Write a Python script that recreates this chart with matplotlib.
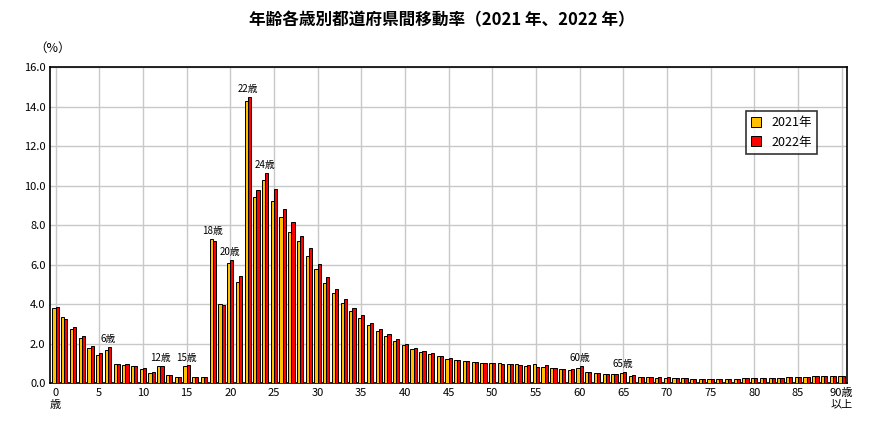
import numpy as np
import matplotlib.pyplot as plt

plt.rcParams['font.family'] = ['Noto Sans CJK JP', 'DejaVu Sans']

ages = np.arange(91)
rate_2021 = [3.79, 3.33, 2.73, 2.27, 1.77, 1.43, 1.68, 0.96, 0.93, 0.88,
             0.72, 0.52, 0.84, 0.39, 0.32, 0.86, 0.30, 0.29, 7.32, 3.99,
             6.09, 5.10, 14.28, 9.43, 10.27, 9.23, 8.42, 7.66, 7.19, 6.45,
             5.79, 5.07, 4.58, 4.04, 3.65, 3.32, 2.95, 2.66, 2.36, 2.14,
             1.95, 1.72, 1.58, 1.45, 1.35, 1.23, 1.18, 1.13, 1.08, 1.04,
             1.01, 0.99, 0.98, 0.94, 0.84, 0.98, 0.81, 0.76, 0.72, 0.67,
             0.77, 0.57, 0.51, 0.45, 0.44, 0.51, 0.37, 0.32, 0.30, 0.27,
             0.27, 0.27, 0.24, 0.22, 0.21, 0.22, 0.22, 0.22, 0.22, 0.24,
             0.24, 0.25, 0.25, 0.27, 0.29, 0.30, 0.32, 0.34, 0.35, 0.35, 0.34]
rate_2022 = [3.84, 3.23, 2.86, 2.39, 1.89, 1.50, 1.82, 0.98, 0.94, 0.88,
             0.76, 0.54, 0.86, 0.40, 0.32, 0.89, 0.30, 0.30, 7.19, 3.97,
             6.23, 5.44, 14.51, 9.80, 10.64, 9.81, 8.80, 8.15, 7.46, 6.82,
             6.04, 5.35, 4.75, 4.26, 3.82, 3.47, 3.06, 2.74, 2.47, 2.22,
             2.00, 1.78, 1.62, 1.52, 1.38, 1.28, 1.18, 1.11, 1.08, 1.03,
             1.03, 0.98, 0.98, 0.93, 0.89, 0.82, 0.93, 0.77, 0.72, 0.71,
             0.84, 0.57, 0.51, 0.47, 0.45, 0.56, 0.39, 0.32, 0.32, 0.30,
             0.29, 0.27, 0.25, 0.22, 0.22, 0.21, 0.22, 0.22, 0.22, 0.24,
             0.25, 0.25, 0.27, 0.27, 0.29, 0.32, 0.32, 0.35, 0.35, 0.37, 0.35]
labeled_ages = [6, 12, 15, 18, 20, 22, 24, 60, 65]
tick_pos = list(range(0, 91, 5))
tick_labels = ['0\n歳'] + [str(t) for t in tick_pos[1:-1]] + ['90歳\n以上']

fig = plt.figure(figsize=(8.83, 4.48), dpi=100)
ax = fig.add_axes([0.057, 0.145, 0.902, 0.705])

w = 0.36
ax.bar(ages - w / 2, rate_2021, width=w, color='#FFC000', edgecolor='black', linewidth=0.7, label='2021年', zorder=3)
ax.bar(ages + w / 2, rate_2022, width=w, color='#FF0000', edgecolor='black', linewidth=0.7, label='2022年', zorder=3)

for a in labeled_ages:
    top = max(rate_2021[a], rate_2022[a])
    ax.text(a, top + 0.15, f'{a}歳', ha='center', va='bottom', fontsize=7)

ax.set_xlim(-0.6, 90.6)
ax.set_ylim(0, 16)
ax.set_yticks(np.arange(0, 16.1, 2))
ax.set_yticklabels([f'{v:.1f}' for v in np.arange(0, 16.1, 2)], fontsize=8)
ax.set_xticks(tick_pos)
ax.set_xticklabels(tick_labels, fontsize=8, va='top')
ax.tick_params(length=0)
ax.grid(True, color='#c8c8c8', linewidth=1, zorder=0)
for s in ax.spines.values():
    s.set_linewidth(1.2)

ax.text(-0.02, 1.06, '（%）', transform=ax.transAxes, fontsize=9, ha='left', va='center')
fig.suptitle('年齢各歳別都道府県間移動率（2021 年、2022 年）', fontsize=12, fontweight='bold', y=0.975)

leg = ax.legend(loc='upper right', bbox_to_anchor=(0.97, 0.88), fancybox=False, edgecolor='black',
                fontsize=9, handlelength=0.8, handleheight=0.8)
leg.get_frame().set_linewidth(1.2)

fig.savefig('out.png', dpi=100)
